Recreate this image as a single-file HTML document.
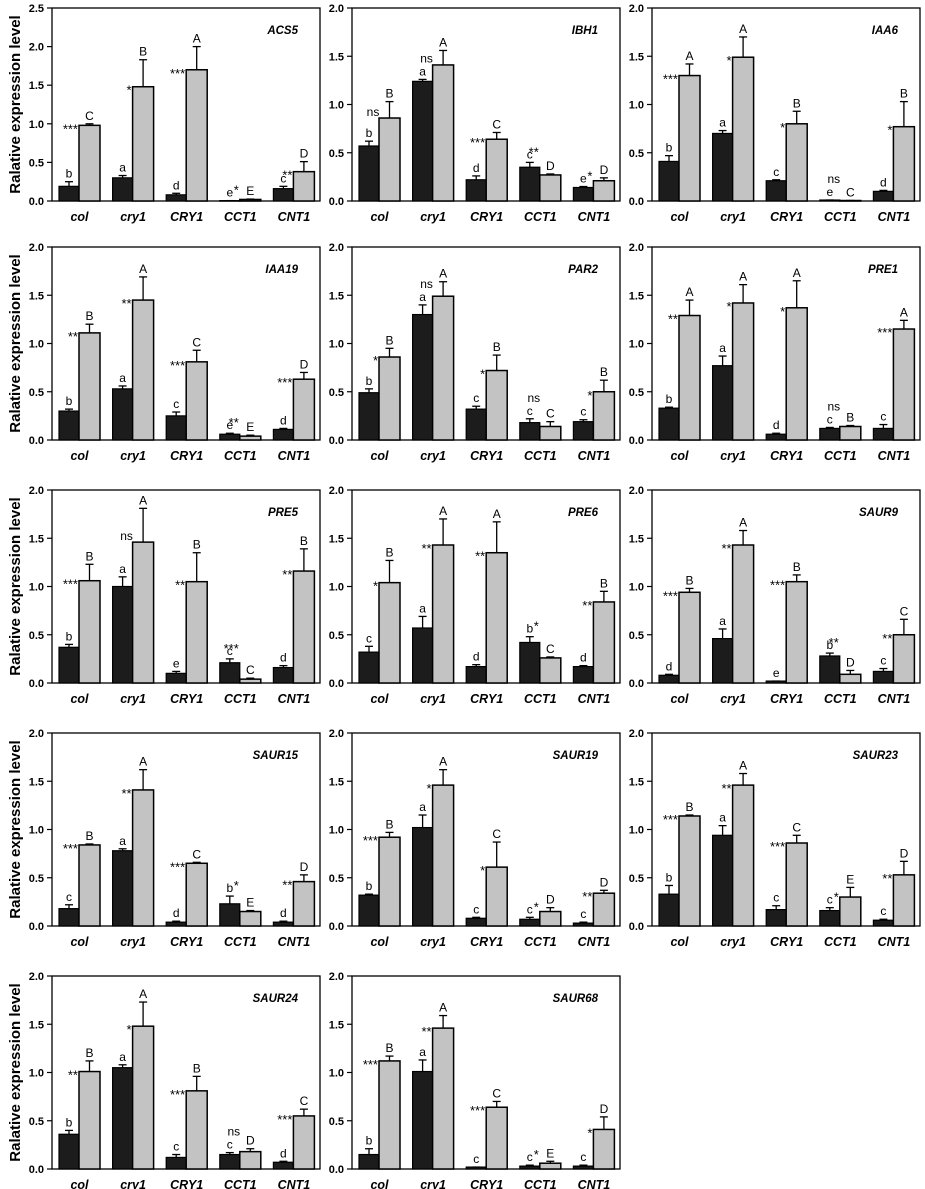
<!DOCTYPE html>
<html><head><meta charset="utf-8"><style>
body{margin:0;background:#fff}
svg{display:block}
text{font-family:"Liberation Sans",Arial,sans-serif}
</style></head><body>
<svg id="fig" width="925" height="1189" viewBox="0 0 925 1189" xmlns="http://www.w3.org/2000/svg"></svg>
<script>
const categories = ["col","cry1","CRY1","CCT1","CNT1"];
const genes = ["ACS5","IBH1","IAA6","IAA19","PAR2","PRE1","PRE5","PRE6","SAUR9","SAUR15","SAUR19","SAUR23","SAUR24","SAUR68"];
const yMaxes = [2.5,2,2,2,2,2,2,2,2,2,2,2,2,2];
const blackVals = [
 [.19,.30,.08,.005,.16],[.57,1.24,.22,.35,.14],[.41,.70,.21,.01,.10],
 [.30,.53,.25,.06,.11],[.49,1.30,.32,.18,.19],[.33,.77,.06,.12,.12],
 [.37,1.00,.10,.21,.16],[.32,.57,.17,.42,.17],[.08,.46,.02,.28,.12],
 [.18,.78,.04,.23,.04],[.32,1.02,.08,.07,.03],[.33,.94,.17,.16,.06],
 [.36,1.05,.12,.15,.07],[.15,1.01,.02,.03,.03]];
const blackErr = [
 [.06,.03,.02,0,.03],[.05,.02,.04,.05,.01],[.06,.03,.01,0,.01],
 [.02,.03,.04,.01,.01],[.04,.10,.03,.04,.02],[.01,.10,.01,.01,.04],
 [.03,.10,.02,.04,.02],[.06,.12,.02,.06,.01],[.01,.10,0,.03,.03],
 [.04,.02,.01,.08,.01],[.01,.13,.01,.02,.01],[.09,.10,.04,.03,.01],
 [.04,.03,.03,.02,.01],[.06,.12,0,.01,.01]];
const grayVals = [
 [.98,1.48,1.70,.02,.38],[.86,1.41,.64,.27,.21],[1.30,1.49,.80,.005,.77],
 [1.11,1.45,.81,.04,.63],[.86,1.49,.72,.14,.50],[1.29,1.42,1.37,.14,1.15],
 [1.06,1.46,1.05,.04,1.16],[1.04,1.43,1.35,.26,.84],[.94,1.43,1.05,.09,.50],
 [.84,1.41,.65,.15,.46],[.92,1.46,.61,.15,.34],[1.14,1.46,.86,.30,.53],
 [1.01,1.48,.81,.18,.55],[1.12,1.46,.64,.06,.41]];
const grayErr = [
 [.02,.35,.30,.005,.13],[.17,.15,.07,.01,.03],[.12,.21,.13,0,.26],
 [.09,.24,.12,.01,.07],[.09,.15,.16,.05,.12],[.16,.19,.28,.01,.09],
 [.17,.35,.30,.01,.23],[.23,.27,.32,.01,.11],[.04,.15,.07,.04,.16],
 [.01,.21,.01,.01,.07],[.05,.16,.26,.04,.03],[.01,.12,.08,.10,.14],
 [.11,.25,.15,.03,.07],[.05,.13,.06,.02,.13]];
const blackLetters = [
 ["b","a","d","e","c"],["b","a","d","c","e"],["b","a","c","e","d"],
 ["b","a","c","e","d"],["b","a","c","c","c"],["b","a","d","c","c"],
 ["b","a","e","c","d"],["c","a","d","b","d"],["d","a","e","b","c"],
 ["c","a","d","b","d"],["b","a","c","c","c"],["b","a","c","c","c"],
 ["b","a","c","c","d"],["b","a","c","c","c"]];
const stars = [
 ["***","*","***","*","**"],["ns","ns","***","**","*"],["***","*","*","ns","*"],
 ["**","**","***","**","***"],["*","ns","*","ns","*"],["**","*","*","ns","***"],
 ["***","ns","**","***","**"],["*","**","**","*","**"],["***","**","***","**","**"],
 ["***","**","***","*","**"],["***","*","*","*","**"],["***","**","***","*","**"],
 ["**","*","***","ns","***"],["***","**","***","*","*"]];
const grayLetters = [
 ["C","B","A","E","D"],["B","A","C","D","D"],["A","A","B","C","B"],
 ["B","A","C","E","D"],["B","A","B","C","B"],["A","A","A","B","A"],
 ["B","A","B","C","B"],["B","A","A","C","B"],["B","A","B","D","C"],
 ["B","A","C","E","D"],["B","A","C","D","D"],["B","A","C","E","D"],
 ["B","A","B","D","C"],["B","A","C","E","D"]];

const NS = "http://www.w3.org/2000/svg";
const svg = document.getElementById("fig");
function mk(tag, attrs, parent){const e=document.createElementNS(NS,tag);for(const k in attrs)e.setAttribute(k,attrs[k]);(parent||svg).appendChild(e);return e;}

const colX = [52,352,652], panelW = 268, plotH = 193;
const rowTop = [8,247,490,733,976];

genes.forEach((gene,p)=>{
  const r = Math.floor(p/3), c = p%3;
  const x0 = colX[c], top = rowTop[r], base = top+plotH, ymax = yMaxes[p];
  const y = v => base - v/ymax*plotH;
  const groupW = panelW/5;
  const g = mk("g",{});
  
  
  const frame = mk("rect",{x:x0,y:top,width:panelW,height:plotH,fill:"none",stroke:"#000","stroke-width":1.3},g);
  
  
  for(let t=0;t<=ymax+1e-9;t+=0.5){
    const ty=y(t);
    const tk = mk("line",{x1:x0-5,x2:x0,y1:ty,y2:ty,stroke:"#000","stroke-width":1.2},g);
    
    
    const tl = mk("text",{x:x0-8,y:ty+4,"text-anchor":"end","font-size":11,"font-weight":"bold"},g);
    tl.textContent=t.toFixed(1);
    
    
  }
  const title = mk("text",{x:x0+panelW-22,y:top+26,"text-anchor":"end","font-size":11.5,"font-weight":"bold","font-style":"italic"},g);
  title.textContent=gene;
  
  
  categories.forEach((cat,i)=>{
    const gx = x0+7+i*groupW, bw=20, gw=21;
    const bv=blackVals[p][i], be=blackErr[p][i], gv=grayVals[p][i], ge=grayErr[p][i];
    const ebx = gx+bw/2, egx = gx+bw+gw/2;
    if(be>0){
      const l1=mk("line",{x1:ebx,x2:ebx,y1:y(bv),y2:y(bv+be),stroke:"#000","stroke-width":1.3},g);
      
      
    }
    const c1=mk("line",{x1:ebx-4,x2:ebx+4,y1:y(bv+be),y2:y(bv+be),stroke:"#000","stroke-width":1.3},g);
    
    
    if(ge>0){
      const l2=mk("line",{x1:egx,x2:egx,y1:y(gv),y2:y(gv+ge),stroke:"#000","stroke-width":1.3},g);
      
      
    }
    const c2=mk("line",{x1:egx-4,x2:egx+4,y1:y(gv+ge),y2:y(gv+ge),stroke:"#000","stroke-width":1.3},g);
    
    
    const b1=mk("rect",{x:gx,y:y(bv),width:bw,height:Math.max(0.5,base-y(bv)),fill:"#1c1c1c",stroke:"#000","stroke-width":1.2},g);
    
    
    const b2=mk("rect",{x:gx+bw,y:y(gv),width:gw,height:Math.max(0.5,base-y(gv)),fill:"#c3c3c3",stroke:"#000","stroke-width":1.5},g);
    
    
    const t1=mk("text",{x:ebx,y:y(bv+be)-4,"text-anchor":"middle","font-size":12},g);
    t1.textContent=blackLetters[p][i];
    
    
    const t2=mk("text",{x:egx,y:y(gv+ge)-4,"text-anchor":"middle","font-size":12},g);
    t2.textContent=grayLetters[p][i];
    
    
    const s=stars[p][i];
    let sx, sy;
    if(s==="ns"){ sx=ebx+4; sy=Math.min(y(bv+be)-17, y(gv)-2); }
    else { sx=gx+bw-1; sy=Math.min(y(gv)+8, y(bv+be)-6); }
    const t3=mk("text",{x:sx,y:sy,"text-anchor":s==="ns"?"middle":"end","font-size":s==="ns"?12:13},g);
    t3.textContent=s;
    
    
    const xl=mk("text",{x:gx+(bw+gw)/2,y:base+20,"text-anchor":"middle","font-size":12.5,"font-weight":"bold","font-style":"italic"},g);
    xl.textContent=cat;
    
    
  });
});
rowTop.forEach((top)=>{
  const cy=top+plotH/2;
  const t=mk("text",{x:0,y:0,transform:`translate(20,${cy}) rotate(-90)`,"text-anchor":"middle","font-size":15,"font-weight":"bold"});
  t.textContent="Ralative expression level";
  
  
});
</script>
</body></html>
